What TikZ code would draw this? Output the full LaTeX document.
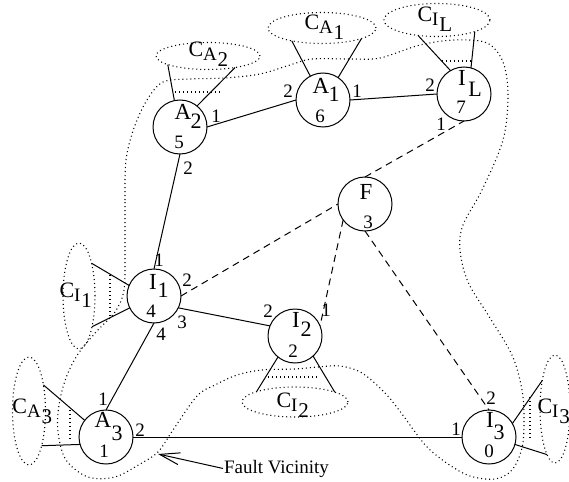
\documentclass[tikz,border=0pt]{standalone}
\usepackage{fontspec}
\setmainfont{Liberation Serif}
\usetikzlibrary{shapes.geometric,arrows.meta,calc}
\newcommand\fL{\fontsize{23}{27}\selectfont}
\newcommand\fS{\fontsize{22}{26}\selectfont}
\newcommand\fN{\fontsize{19}{23}\selectfont}
\newcommand\fC{\fontsize{22}{26}\selectfont}
\newcommand\fCa{\fontsize{19}{23}\selectfont}
\newcommand\fCb{\fontsize{21}{25}\selectfont}
\newcommand\clab[2]{{\fC C}\raisebox{-4pt}{\fCa #1\kern0.8pt\raisebox{-6pt}{\fCb #2}}}
\begin{document}
\begin{tikzpicture}[x=1pt,y=-1pt,
  nd/.style={circle,draw,line width=1pt,minimum size=54pt,inner sep=0pt,outer sep=0pt},
  cone/.style={ellipse,draw,line width=1.1pt,dash pattern=on 1pt off 3pt,inner sep=0pt,outer sep=0pt},
  ln/.style={line width=1pt},
  dsh/.style={line width=1pt,dash pattern=on 7pt off 5pt},
  dt/.style={line width=1.1pt,dash pattern=on 1pt off 3pt},
  lt/.style={inner sep=0pt,outer sep=0pt,font=\fL},
  st/.style={inner sep=0pt,outer sep=0pt,font=\fS},
  nt/.style={inner sep=0pt,outer sep=0pt,font=\fN},
  pl/.style={inner sep=0pt,outer sep=0pt,font=\fN},
  cl/.style={inner sep=0pt,outer sep=0pt,anchor=base west}]
\useasboundingbox (0,0) rectangle (569,481);

% fault vicinity curve
\draw[dt] plot[smooth cycle, tension=0.55] coordinates {
 (125,250) (125,200) (126,160) (134,128) (147,100) (163,82) (190,79) (225,78)
 (260,74) (290,65) (312,59) (350,59) (380,58) (420,45) (455,40) (487,43)
 (503,62) (508,95) (503,140) (482,190) (463,225) (460,250) (468,282) (490,318)
 (512,355) (522,390) (524,420) (522,448) (512,470) (495,479) (470,476) (448,464)
 (428,448) (415,432) (402,414) (385,393) (362,373) (340,366) (318,367) (295,369)
 (262,370) (237,375) (215,385) (197,396) (173,430) (158,452) (140,464) (115,477)
 (88,477) (66,460) (58,432) (59,405) (66,378) (78,354) (97,331) (115,312) (124,290)};

% cone slices
\draw[dt] (175,92) -- (223,92);
\draw[dt] (442,61) -- (472,61);
\draw[dt] (110,275) -- (110,318);
\draw[dt] (268,377) -- (320,377);
\draw[dt] (70,410) -- (70,442);
\draw[dt] (530,397) -- (530,440);

% nodes
\node[nd] (A2) at (180,127) {};
\node[nd] (A1) at (323,100) {};
\node[nd] (IL) at (464,94) {};
\node[nd] (F)  at (365,204) {};
\node[nd] (I1) at (154,296) {};
\node[nd] (I2) at (295,336) {};
\node[nd] (A3) at (106,437) {};
\node[nd] (I3) at (489,437) {};

\node[lt] (A2l) at (183,112) {A}; \node[st] (A2s) at (196,121) {2}; \node[nt] (A2n) at (179,142) {5};
\node[lt] (A1l) at (321,86) {A};  \node[st] (A1s) at (334,94) {1};  \node[nt] (A1n) at (320,116) {6};
\node[lt] (ILl) at (462,78) {I};  \node[st] (ILs) at (475,89) {L};  \node[nt] (ILn) at (461,107) {7};
\node[lt] (Fl)  at (366,192) {F};                                    \node[nt] (Fn)  at (368,222) {3};
\node[lt] (I1l) at (153,282) {I}; \node[st] (I1s) at (163,290) {1}; \node[nt] (I1n) at (151,311) {4};
\node[lt] (I2l) at (296,320) {I}; \node[st] (I2s) at (306,329) {2}; \node[nt] (I2n) at (293,351) {2};
\node[lt] (A3l) at (103,420) {A}; \node[st] (A3s) at (117,433) {3}; \node[nt] (A3n) at (104,451) {1};
\node[lt] (I3l) at (490,420) {I}; \node[st] (I3s) at (499,432) {3}; \node[nt] (I3n) at (489,451) {0};

% cluster ellipses
\node[cone,minimum width=104pt,minimum height=27pt] (CA2) at (208,56) {};
\node[cone,minimum width=108pt,minimum height=31pt] (CA1) at (322,28) {};
\node[cone,minimum width=106pt,minimum height=33pt] (CIL) at (437,20) {};
\node[cone,minimum width=32pt,minimum height=106pt] (CI1) at (79,296) {};
\node[cone,minimum width=106pt,minimum height=30pt] (CI2) at (295,402) {};
\node[cone,minimum width=33pt,minimum height=108pt] (CA3) at (29,411) {};
\node[cone,minimum width=30pt,minimum height=108pt] (CI3) at (555,409) {};

\node[cl] (CA2t) at (188.5,57) {\clab{A}{2}};
\node[cl] (CA1t) at (304.5,30) {\clab{A}{1}};
\node[cl] (CILt) at (417.5,22) {\clab{I}{L}};
\node[cl] (CI1t) at (59.5,297) {\clab{I}{1}};
\node[cl] (CI2t) at (276.5,407) {\clab{I}{2}};
\node[cl] (CA3t) at (12.5,413) {\clab{A}{3}};
\node[cl] (CI3t) at (537.5,413) {\clab{I}{3}};

% stubs to clusters
\draw[ln] (A2.102.5) -- (CA2.192);
\draw[ln] (A2.51) -- (CA2.337);
\draw[ln] (A1.118) -- (CA1.203);
\draw[ln] (A1.56) -- (CA1.345);
\draw[ln] (IL.120) -- (CIL.219);
\draw[ln] (IL.75) -- (CIL.343);
\draw[ln] (I1.157) -- (CI1.69);
\draw[ln] (I1.206) -- (CI1.293);
\draw[ln] (I2.231) -- (CI2.165);
\draw[ln] (I2.312) -- (CI2.14);
\draw[ln] (A3.142) -- (CA3.61);
\draw[ln] (A3.196) -- (CA3.290);
\draw[ln] (I3.30) -- (CI3.114);
\draw[ln] (I3.344) -- (CI3.260);

% links
\draw[ln] (A2.east) -- (A1.west);
\draw[ln] (A1.east) -- (IL.west);
\draw[ln] (A2.south) -- (I1.north);
\draw[ln] (I1.-26) -- (I2.158);
\draw[ln] (I1.south) -- (A3.north);
\draw[ln] (A3.east) -- (I3.west);
\draw[dsh] (I1.east) -- (F.west);
\draw[dsh] (F.north) -- (IL.south);
\draw[dsh] (F.216) -- (I2.22);
\draw[dsh] (F.south) -- (I3.north);

% port labels
\node[pl] (p1) at (216,116) {1};
\node[pl] (p2) at (288,91) {2};
\node[pl] (p3) at (357,91) {1};
\node[pl] (p4) at (430,85) {2};
\node[pl] (p5) at (188,168) {2};
\node[pl] (p6) at (159,260) {1};
\node[pl] (p7) at (187,280) {2};
\node[pl] (p8) at (441,124) {1};
\node[pl] (p9) at (182,322) {3};
\node[pl] (p10) at (268,311) {2};
\node[pl] (p11) at (161,334) {4};
\node[pl] (p12) at (103,399) {1};
\node[pl] (p13) at (326,310) {1};
\node[pl] (p14) at (491,398) {2};
\node[pl] (p15) at (140,430) {2};
\node[pl] (p16) at (456,429) {1};

% fault vicinity label
\coordinate (fvtip) at (158,454);
\node[cl,font=\fN,outer sep=1pt] (fvtext) at (223,473) {Fault Vicinity};
\draw[ln,-{Straight Barb[length=20pt,width=12pt]}] (fvtext.west) -- (fvtip);
\end{tikzpicture}
\end{document}
